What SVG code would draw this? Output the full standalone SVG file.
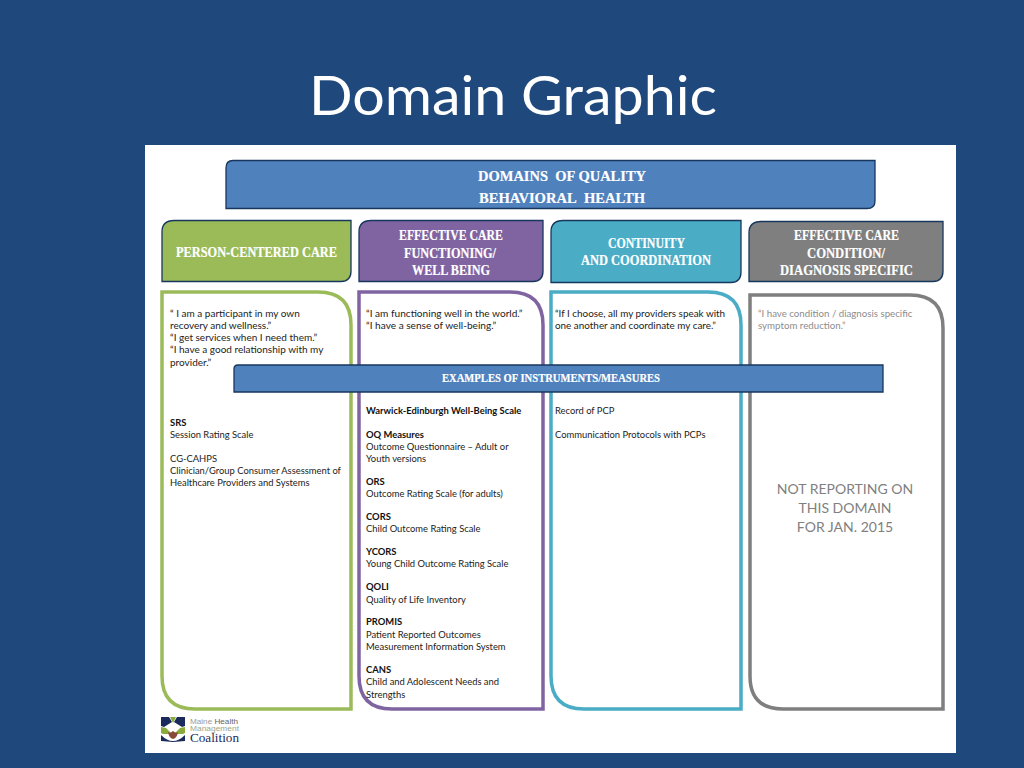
<svg xmlns="http://www.w3.org/2000/svg" width="1024" height="768" viewBox="0 0 1024 768">
<style>
text{font-family:Lato,"Noto Sans",sans-serif}
.t{font-size:10px;fill:#222}
.b{font-weight:700;fill:#111}
.h{font-family:"Liberation Serif",serif;font-weight:700;font-size:15px;fill:#fff;stroke:#fff;stroke-width:.2}
.hd{stroke:#17375e;stroke-width:1.3}
.box{fill:#fff;stroke-width:3.500}
</style>
<rect width="1024" height="768" fill="#1f497d"/>
<text x="309" y="115" font-size="55" fill="#fff" textLength="408" lengthAdjust="spacingAndGlyphs">Domain Graphic</text>
<rect x="145" y="145" width="811" height="608" fill="#fff"/>
<g id="domains"><path class="hd" fill="#4f81bd" d="M233 160.500H875V201Q875 208.500 867 208.500H226V168Q226 160.500 233 160.500Z"/><text class="h" x="478" y="181" textLength="168" lengthAdjust="spacingAndGlyphs">DOMAINS&#160; OF QUALITY</text><text class="h" x="479" y="203" textLength="166" lengthAdjust="spacingAndGlyphs">BEHAVIORAL&#160; HEALTH</text></g>
<g id="head-person"><path class="hd" fill="#9bbb59" d="M174 220.500H351V271Q351 281.500 341 281.500H162V232Q162 220.500 174 220.500Z"/><text class="h" x="176" y="257" textLength="161" lengthAdjust="spacingAndGlyphs">PERSON-CENTERED CARE</text></g>
<g id="head-functioning"><path class="hd" fill="#8064a2" d="M371 220.500H543V271Q543 281.500 533 281.500H359V232Q359 220.500 371 220.500Z"/><text class="h" x="399" y="240" textLength="104" lengthAdjust="spacingAndGlyphs">EFFECTIVE CARE</text><text class="h" x="404" y="258" textLength="92" lengthAdjust="spacingAndGlyphs">FUNCTIONING/</text><text class="h" x="412" y="275" textLength="78" lengthAdjust="spacingAndGlyphs">WELL BEING</text></g>
<g id="head-continuity"><path class="hd" fill="#4bacc6" d="M563 220.500H741V272Q741 282.500 731 282.500H551V232Q551 220.500 563 220.500Z"/><text class="h" x="608" y="248" textLength="77" lengthAdjust="spacingAndGlyphs">CONTINUITY</text><text class="h" x="581" y="265" textLength="130" lengthAdjust="spacingAndGlyphs">AND COORDINATION</text></g>
<g id="head-condition"><path class="hd" fill="#7f7f7f" d="M761 221.500H943V271Q943 281.500 933 281.500H749V233Q749 221.500 761 221.500Z"/><text class="h" x="794" y="240" textLength="105" lengthAdjust="spacingAndGlyphs">EFFECTIVE CARE</text><text class="h" x="807" y="258" textLength="78" lengthAdjust="spacingAndGlyphs">CONDITION/</text><text class="h" x="780" y="275" textLength="133" lengthAdjust="spacingAndGlyphs">DIAGNOSIS SPECIFIC</text></g>

<g id="col-person"><path class="box" stroke="#9bbb59" d="M162 292H318Q351 292 351 325V709H195Q162 709 162 676Z"/>
<text class="t" x="170"><tspan x="170" y="317">“ I am a participant in my own</tspan><tspan x="170" y="329">recovery and wellness.”</tspan><tspan x="170" y="341">“I get services when I need them.”</tspan><tspan x="170" y="353">“I have a good relationship with my</tspan><tspan x="170" y="366">provider.”</tspan></text>
<text class="t" transform="translate(170 0) scale(.94 1)"><tspan x="0" y="426" class="b">SRS</tspan><tspan x="0" y="438">Session Rating Scale</tspan><tspan x="0" y="462">CG-CAHPS</tspan><tspan x="0" y="474">Clinician/Group Consumer Assessment of</tspan><tspan x="0" y="486">Healthcare Providers and Systems</tspan></text></g>
<g id="col-functioning"><path class="box" stroke="#8064a2" d="M359 292H510Q543 292 543 325V709H392Q359 709 359 676Z"/>
<text class="t" transform="translate(366 0) scale(1.01 1)"><tspan x="0" y="317">“I am functioning well in the world.”</tspan><tspan x="0" y="329">“I have a sense of well-being.”</tspan></text>
<text class="t" transform="translate(366 0) scale(.94 1)"><tspan x="0" y="414" class="b">Warwick-Edinburgh Well-Being Scale</tspan><tspan x="0" y="438" class="b">OQ Measures</tspan><tspan x="0" y="450">Outcome Questionnaire – Adult or</tspan><tspan x="0" y="462">Youth versions</tspan><tspan x="0" y="485" class="b">ORS</tspan><tspan x="0" y="497">Outcome Rating Scale (for adults)</tspan><tspan x="0" y="520" class="b">CORS</tspan><tspan x="0" y="532">Child Outcome Rating Scale</tspan><tspan x="0" y="555" class="b">YCORS</tspan><tspan x="0" y="567">Young Child Outcome Rating Scale</tspan><tspan x="0" y="590" class="b">QOLI</tspan><tspan x="0" y="603">Quality of Life Inventory</tspan><tspan x="0" y="625" class="b">PROMIS</tspan><tspan x="0" y="638">Patient Reported Outcomes</tspan><tspan x="0" y="650">Measurement Information System</tspan><tspan x="0" y="673" class="b">CANS</tspan><tspan x="0" y="685">Child and Adolescent Needs and</tspan><tspan x="0" y="698">Strengths</tspan></text></g>
<g id="col-continuity"><path class="box" stroke="#4bacc6" d="M551 292H708Q741 292 741 325V709H584Q551 709 551 676Z"/>
<text class="t" transform="translate(555 0) scale(.99 1)"><tspan x="0" y="317">“If I choose, all my providers speak with</tspan><tspan x="0" y="329">one another and coordinate my care.”</tspan></text>
<text class="t" transform="translate(555 0) scale(.94 1)"><tspan x="0" y="414">Record of PCP</tspan><tspan x="0" y="438">Communication Protocols with PCPs</tspan></text></g>
<g id="col-condition"><path class="box" stroke="#7f7f7f" d="M750 295H910Q943 295 943 328V709H783Q750 709 750 676Z"/>
<text class="t" style="fill:#8c8c8c" transform="translate(758 0) scale(.97 1)"><tspan x="0" y="317">“I have condition / diagnosis specific</tspan><tspan x="0" y="329">symptom reduction.”</tspan></text>
<text font-size="14" fill="#7f7f7f" text-anchor="middle"><tspan x="845" y="494">NOT REPORTING ON</tspan><tspan x="845" y="513">THIS DOMAIN</tspan><tspan x="845" y="532">FOR JAN. 2015</tspan></text></g>
<g id="examples"><path class="hd" fill="#4f81bd" d="M238 365H883V392H234V369Q234 365 238 365Z"/><text class="h" x="442" y="382" style="font-size:12px" textLength="218" lengthAdjust="spacingAndGlyphs">EXAMPLES OF INSTRUMENTS/MEASURES</text></g>
<g id="logo">
<path d="M161 717H169L172 722L164 727L161 726Z M185 717H177L174 722L182 727L185 726Z" fill="#1a2a5c"/>
<path d="M170 717H176L173 723Z" fill="#8aab3c"/>
<path d="M161 727L166 728L172 734H163L161 733Z M185 727L180 728L174 734H183L185 733Z" fill="#8aab3c"/>
<path d="M161 735Q173 747 185 735V741L173 742L161 741Z" fill="#1a2a5c"/>
<path d="M173 731Q176 734 178 732Q177 738 173 739Q169 738 168 732Q170 734 173 731Z" fill="#8a4a3a"/>
<text x="190" y="724" font-size="7.500" fill="#999" textLength="48" lengthAdjust="spacingAndGlyphs" style="font-family:'Liberation Sans',sans-serif">Maine <tspan fill="#666">Health</tspan></text>
<text x="190" y="731" font-size="7" fill="#9aa88a" textLength="49" lengthAdjust="spacingAndGlyphs" style="font-family:'Liberation Sans',sans-serif">Management</text>
<text x="190" y="742" font-size="13" fill="#1a2a5c" textLength="49" lengthAdjust="spacingAndGlyphs" style="font-family:'Liberation Serif',serif">Coalition</text>
</g>
</svg>
